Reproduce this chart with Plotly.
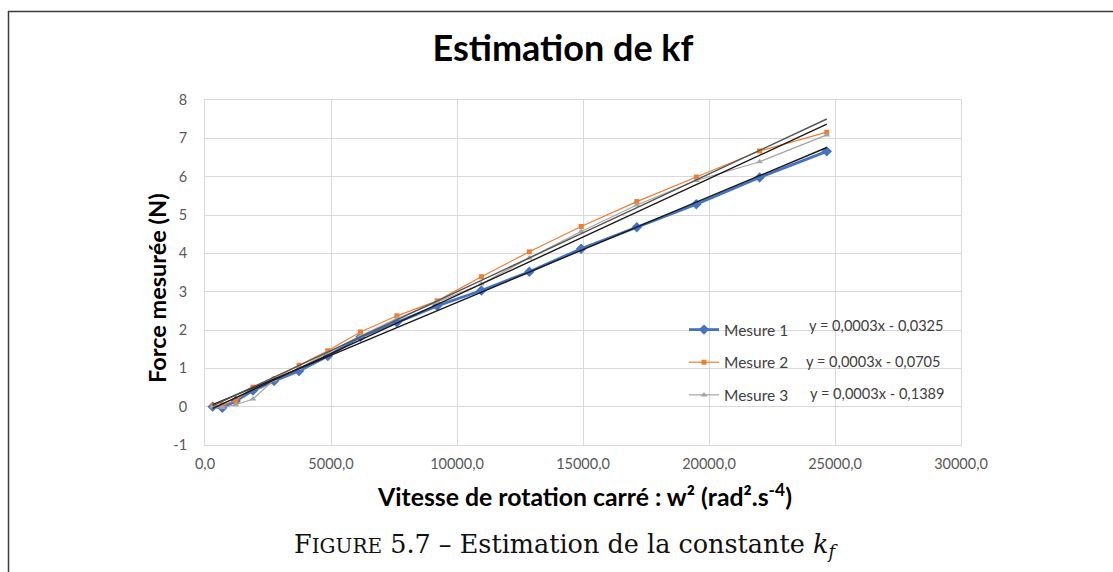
import numpy as np
import plotly.graph_objects as go

# Squared rotation speed (rad^2/s^2) for each measurement step
w2 = [304.6, 685.4, 1218.5, 1903.9, 2741.6, 3731.7, 4874.0, 6168.5, 7615.4,
      9214.6, 10966.2, 12870.1, 14926.2, 17134.7, 19495.5, 22008.7, 24674.0]

# Measured thrust (N) for the three runs
mesure1 = [0.00, -0.03, 0.15, 0.42, 0.67, 0.93, 1.32, 1.82, 2.20,
           2.63, 3.03, 3.52, 4.12, 4.68, 5.28, 5.98, 6.66]
mesure2 = [0.02, 0.05, 0.15, 0.51, 0.72, 1.08, 1.46, 1.95, 2.37,
           2.76, 3.39, 4.04, 4.70, 5.35, 5.99, 6.67, 7.16]
mesure3 = [0.00, -0.02, 0.05, 0.20, 0.70, 1.00, 1.40, 1.85, 2.30,
           2.72, 3.20, 3.88, 4.57, 5.26, 5.90, 6.39, 7.09]

series_names = ["Mesure 1", "Mesure 2", "Mesure 3"]

# Linear trendline coefficients for each run (slope, intercept)
trend_slope = [0.0002753, 0.0003070, 0.0003043]
trend_intercept = [-0.0325, -0.0705, -0.1389]

x_tickvals = [0, 5000, 10000, 15000, 20000, 25000, 30000]
x_ticktext = ["0,0", "5000,0", "10000,0", "15000,0", "20000,0", "25000,0", "30000,0"]
y_tickvals = [-1, 0, 1, 2, 3, 4, 5, 6, 7, 8]
y_ticktext = ["-1", "0", "1", "2", "3", "4", "5", "6", "7", "8"]

W, H = 1113, 572
L, R, T, B = 205, 961, 100, 445


def px(x):
    return (x - L) / (R - L)


def py(y):
    return (B - y) / (B - T)


fig = go.Figure()

styles = [
    dict(color="#4472C4", width=2.8, symbol="diamond", size=8),
    dict(color="#ED7D31", width=1.2, symbol="square", size=5),
    dict(color="#A5A5A5", width=1.2, symbol="triangle-up", size=6),
]

for name, ys, st in zip(series_names, [mesure1, mesure2, mesure3], styles):
    fig.add_trace(go.Scatter(
        x=w2, y=ys, name=name, mode="lines+markers",
        line=dict(color=st["color"], width=st["width"]),
        marker=dict(color=st["color"], symbol=st["symbol"], size=st["size"]),
        legendgroup=name,
    ))

# Trendlines over the measured range
xs = np.array([min(w2), max(w2)])
trend_colors = ["#1a1a1a", "#555555", "#1a1a1a"]
for a, b, c in zip(trend_slope, trend_intercept, trend_colors):
    fig.add_trace(go.Scatter(
        x=xs, y=a * xs + b, mode="lines", showlegend=False,
        line=dict(color=c, width=1.4), hoverinfo="skip",
    ))


def fmt(v, nd):
    return f"{abs(v):.{nd}f}".replace(".", ",")


eq_pos = [(876, 325), (873, 361), (877, 393)]
for a, b, (ex, ey) in zip(trend_slope, trend_intercept, eq_pos):
    sign = "-" if b < 0 else "+"
    txt = f"y = {fmt(a, 4)}x {sign} {fmt(b, 4)}"
    fig.add_annotation(
        x=px(ex), y=py(ey), xref="paper", yref="paper", text=txt,
        showarrow=False, xanchor="center", yanchor="middle",
        font=dict(family="Lato", size=14.6, color="#404040"),
    )

# Axis titles
fig.add_annotation(
    x=px(584), y=py(495), xref="paper", yref="paper", showarrow=False,
    xanchor="center", yanchor="middle",
    text="<b>Vitesse de rotation carré : w² (rad².s<sup>-4</sup>)</b>",
    font=dict(family="Lato", size=24.8, color="#000000"),
)
fig.add_annotation(
    x=px(157), y=py(288), xref="paper", yref="paper", showarrow=False,
    xanchor="center", yanchor="middle", textangle=-90,
    text="<b>Force mesurée (N)</b>",
    font=dict(family="Lato", size=23.5, color="#000000"),
)

# Outer frame (left and top edges)
fig.add_shape(type="line", xref="paper", yref="paper",
              x0=px(8.5), x1=px(8.5), y0=py(11), y1=py(W + 50),
              line=dict(color="#3a3a3a", width=1.5))
fig.add_shape(type="line", xref="paper", yref="paper",
              x0=px(8), x1=px(W + 50), y0=py(11.5), y1=py(11.5),
              line=dict(color="#3a3a3a", width=1.5))

# Caption
fig.add_annotation(
    x=px(566), y=py(545), xref="paper", yref="paper", showarrow=False,
    xanchor="center", yanchor="middle",
    text="F<span style='font-size:20px'>IGURE</span> 5.7 – Estimation de la constante <i>k</i><sub><i>f</i></sub>",
    font=dict(family="DejaVu Serif", size=25.5, color="#111111"),
)

fig.update_layout(
    width=W, height=H,
    margin=dict(l=L, r=W - R, t=T, b=H - B),
    paper_bgcolor="white", plot_bgcolor="white",
    title=dict(text="<b>Estimation de kf</b>", x=563 / W, xanchor="center",
               y=1 - 48 / H, yanchor="middle",
               font=dict(family="Lato", size=36, color="#000000")),
    xaxis=dict(range=[0, 30000], tickvals=x_tickvals, ticktext=x_ticktext,
               showgrid=True, gridcolor="#D9D9D9", gridwidth=1,
               zeroline=False, showline=True, linecolor="#D9D9D9", mirror=True,
               ticks="", ticklabelstandoff=6,
               tickfont=dict(family="Lato", size=14.5, color="#595959")),
    yaxis=dict(range=[-1, 8], tickvals=y_tickvals, ticktext=y_ticktext,
               showgrid=True, gridcolor="#D9D9D9", gridwidth=1,
               zeroline=False, showline=True, linecolor="#D9D9D9", mirror=True,
               ticks="", ticklabelstandoff=14,
               tickfont=dict(family="Lato", size=14.5, color="#595959")),
    legend=dict(x=px(684), y=py(313), xanchor="left", yanchor="top",
                bgcolor="rgba(0,0,0,0)", tracegroupgap=9.5, itemwidth=30,
                font=dict(family="Lato", size=15.5, color="#404040")),
    showlegend=True,
)

fig.write_html("out.html")
